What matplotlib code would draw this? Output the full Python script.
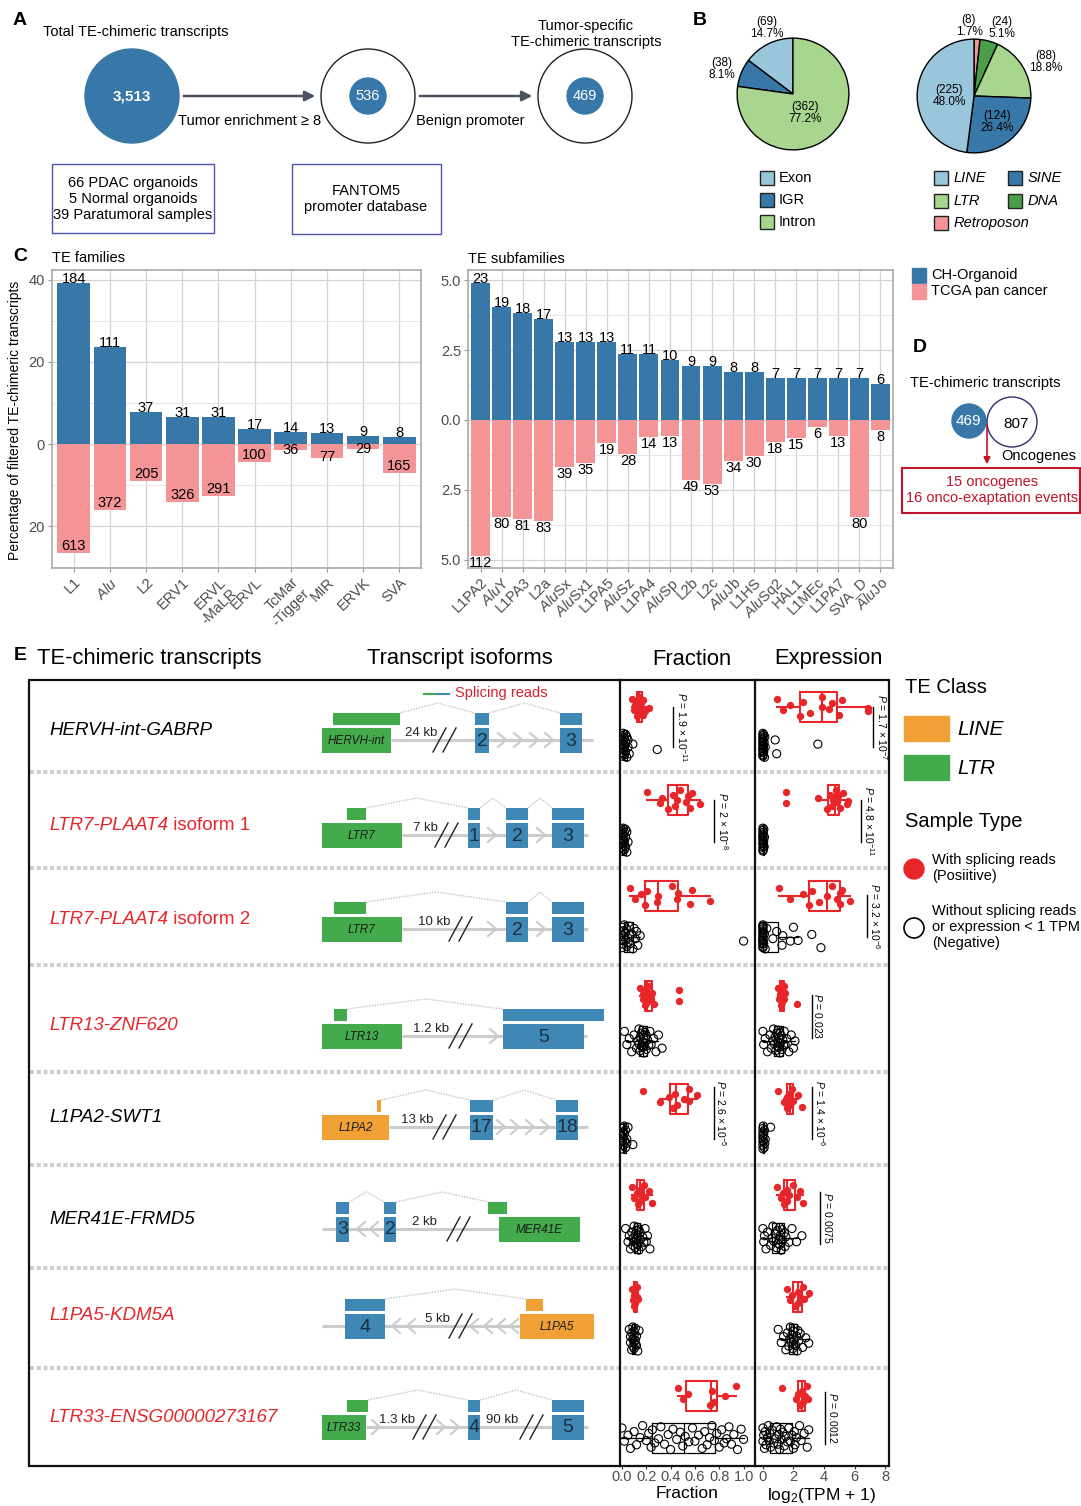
import numpy as np
import matplotlib
matplotlib.use('Agg')
import matplotlib.pyplot as plt
from matplotlib.patches import Circle, Rectangle
from matplotlib.ticker import MultipleLocator

plt.rcParams['font.family'] = ['Liberation Sans', 'DejaVu Sans']
plt.rcParams['mathtext.fontset'] = 'custom'
plt.rcParams['mathtext.rm'] = 'Liberation Sans'
plt.rcParams['mathtext.it'] = 'Liberation Sans:italic'
plt.rcParams['mathtext.bf'] = 'Liberation Sans:bold'

# -------------- data
flow_counts = [3513, 536, 469]

region_labels = ['Exon', 'IGR', 'Intron']
region_counts = [69, 38, 362]
class_labels = ['Retroposon', 'DNA', 'LTR', 'SINE', 'LINE']
class_counts = [8, 24, 88, 124, 225]

ch_total = 469
tcga_total = 2300
fam_names = ['L1', r'$\mathit{Alu}$', 'L2', 'ERV1', 'ERVL\n-MaLR', 'ERVL', 'TcMar\n-Tigger', 'MIR', 'ERVK', 'SVA']
fam_ch = [184, 111, 37, 31, 31, 17, 14, 13, 9, 8]
fam_tcga = [613, 372, 205, 326, 291, 100, 36, 77, 29, 165]
sub_names = ['L1PA2', 'AluY', 'L1PA3', 'L2a', 'AluSx', 'AluSx1', 'L1PA5', 'AluSz', 'L1PA4', 'AluSp',
             'L2b', 'L2c', 'AluJb', 'L1HS', 'AluSq2', 'HAL1', 'L1MEc', 'L1PA7', 'SVA_D', 'AluJo']
sub_ch = [23, 19, 18, 17, 13, 13, 13, 11, 11, 10, 9, 9, 8, 8, 7, 7, 7, 7, 7, 6]
sub_tcga = [112, 80, 81, 83, 39, 35, 19, 28, 14, 13, 49, 53, 34, 30, 18, 15, 6, 13, 80, 8]

onco_te, onco_genes = 469, 807

gene_names = [('HERVH-int-GABRP', '', 'k'), ('LTR7-PLAAT4', ' isoform 1', 'r'),
              ('LTR7-PLAAT4', ' isoform 2', 'r'), ('LTR13-ZNF620', '', 'r'),
              ('L1PA2-SWT1', '', 'k'), ('MER41E-FRMD5', '', 'k'),
              ('L1PA5-KDM5A', '', 'r'), ('LTR33-ENSG00000273167', '', 'r')]

frac_pos = [
    [0.08, 0.10, 0.11, 0.12, 0.12, 0.13, 0.14, 0.14, 0.15, 0.16, 0.17, 0.17, 0.19, 0.22],
    [0.21, 0.31, 0.33, 0.38, 0.42, 0.44, 0.45, 0.48, 0.53, 0.54, 0.56, 0.58, 0.64],
    [0.07, 0.11, 0.16, 0.19, 0.21, 0.29, 0.30, 0.41, 0.45, 0.46, 0.56, 0.58, 0.72],
    [0.15, 0.17, 0.17, 0.19, 0.20, 0.21, 0.21, 0.22, 0.24, 0.25, 0.26, 0.47, 0.47],
    [0.17, 0.31, 0.39, 0.42, 0.44, 0.45, 0.51, 0.55, 0.55, 0.62],
    [0.08, 0.10, 0.12, 0.13, 0.15, 0.15, 0.16, 0.18, 0.19, 0.22, 0.25],
    [0.08, 0.09, 0.10, 0.10, 0.11, 0.11, 0.12, 0.12, 0.13],
    [0.46, 0.50, 0.54, 0.72, 0.74, 0.76, 0.85, 0.94],
]
frac_neg = [
    [0.0, 0.0, 0.0, 0.0, 0.0, 0.0, 0.01, 0.01, 0.01, 0.01, 0.02, 0.02, 0.02, 0.02, 0.03, 0.03,
     0.03, 0.04, 0.04, 0.05, 0.05, 0.06, 0.09, 0.29],
    [0.0, 0.0, 0.0, 0.0, 0.0, 0.0, 0.01, 0.01, 0.01, 0.01, 0.02, 0.02, 0.02, 0.02, 0.03, 0.03,
     0.03, 0.04, 0.04, 0.05],
    [0.0, 0.0, 0.0, 0.0, 0.01, 0.01, 0.02, 0.02, 0.03, 0.03, 0.04, 0.04, 0.05, 0.05, 0.06, 0.07,
     0.08, 0.09, 0.10, 0.11, 0.12, 0.13, 0.15, 1.0],
    [0.02, 0.04, 0.06, 0.08, 0.10, 0.12, 0.13, 0.14, 0.14, 0.15, 0.15, 0.16, 0.16, 0.17, 0.17,
     0.17, 0.18, 0.18, 0.19, 0.19, 0.20, 0.20, 0.21, 0.22, 0.23, 0.24, 0.26, 0.28, 0.30, 0.33],
    [0.0, 0.0, 0.0, 0.0, 0.01, 0.01, 0.01, 0.02, 0.02, 0.02, 0.03, 0.03, 0.04, 0.04, 0.05, 0.09],
    [0.03, 0.05, 0.06, 0.07, 0.08, 0.09, 0.09, 0.10, 0.10, 0.11, 0.11, 0.12, 0.12, 0.12, 0.13,
     0.13, 0.13, 0.14, 0.14, 0.15, 0.15, 0.16, 0.17, 0.18, 0.19, 0.20, 0.21, 0.23],
    [0.06, 0.07, 0.07, 0.08, 0.08, 0.09, 0.09, 0.09, 0.10, 0.10, 0.10, 0.10, 0.11, 0.11, 0.11,
     0.12, 0.12, 0.13, 0.14],
    [0.0, 0.02, 0.05, 0.07, 0.10, 0.12, 0.15, 0.17, 0.20, 0.22, 0.24, 0.25, 0.27, 0.30, 0.32,
     0.35, 0.38, 0.40, 0.42, 0.45, 0.48, 0.50, 0.52, 0.55, 0.58, 0.60, 0.63, 0.66, 0.68, 0.70,
     0.72, 0.74, 0.76, 0.78, 0.80, 0.82, 0.84, 0.86, 0.88, 0.90, 0.92, 0.95, 0.98, 1.0],
]
expr_pos = [
    [0.9, 1.3, 1.8, 2.4, 2.6, 3.1, 3.9, 3.9, 4.3, 4.5, 5.0, 5.2, 6.9, 6.9],
    [1.5, 1.5, 3.6, 4.2, 4.4, 4.5, 4.6, 4.8, 4.85, 4.9, 5.05, 5.25, 5.5, 5.6],
    [1.05, 1.8, 2.6, 3.0, 3.2, 3.7, 4.2, 4.5, 4.85, 5.05, 5.05, 5.2, 5.7],
    [1.0, 1.05, 1.1, 1.2, 1.25, 1.25, 1.3, 1.35, 1.4, 1.45, 2.25],
    [1.0, 1.4, 1.55, 1.6, 1.7, 1.75, 1.8, 1.9, 2.0, 2.3, 2.55],
    [0.9, 1.2, 1.3, 1.4, 1.6, 1.6, 1.7, 2.0, 2.2, 2.4, 2.6],
    [1.55, 1.8, 1.9, 2.1, 2.3, 2.3, 2.4, 2.6, 2.7, 3.0],
    [1.25, 2.15, 2.3, 2.45, 2.55, 2.6, 2.75, 2.9, 2.95],
]
expr_neg = [
    [0.0, 0.0, 0.0, 0.0, 0.0, 0.0, 0.0, 0.0, 0.0, 0.0, 0.0, 0.0, 0.02, 0.03, 0.05, 0.05, 0.08,
     0.1, 0.12, 0.15, 0.8, 0.9, 3.6],
    [0.0, 0.0, 0.0, 0.0, 0.0, 0.0, 0.0, 0.0, 0.0, 0.0, 0.02, 0.03, 0.04, 0.05, 0.06, 0.08, 0.1],
    [0.0, 0.0, 0.0, 0.0, 0.0, 0.0, 0.0, 0.0, 0.0, 0.0, 0.0, 0.0, 0.0, 0.0, 0.0, 0.05, 0.1, 0.15,
     0.25, 0.65, 0.9, 1.25, 1.3, 1.8, 2.0, 2.3, 3.2, 3.8],
    [0.0, 0.05, 0.15, 0.3, 0.45, 0.55, 0.65, 0.7, 0.75, 0.8, 0.85, 0.9, 0.95, 1.0, 1.0, 1.05,
     1.05, 1.1, 1.1, 1.15, 1.2, 1.25, 1.3, 1.35, 1.4, 1.45, 1.55, 1.7, 1.85, 2.0, 2.1],
    [0.0, 0.0, 0.0, 0.0, 0.0, 0.0, 0.0, 0.02, 0.04, 0.05, 0.08, 0.1, 0.12, 0.15, 0.5],
    [0.0, 0.05, 0.1, 0.2, 0.3, 0.5, 0.6, 0.65, 0.7, 0.8, 0.9, 0.95, 1.0, 1.05, 1.1, 1.1, 1.15,
     1.2, 1.25, 1.3, 1.4, 1.45, 1.5, 1.7, 1.9, 2.2, 2.55],
    [1.0, 1.2, 1.35, 1.5, 1.6, 1.7, 1.75, 1.8, 1.85, 1.9, 1.95, 2.0, 2.0, 2.05, 2.1, 2.15, 2.2,
     2.25, 2.3, 2.35, 2.45, 2.6, 2.8, 3.0],
    [0.0, 0.0, 0.05, 0.1, 0.15, 0.2, 0.3, 0.35, 0.4, 0.45, 0.5, 0.6, 0.7, 0.8, 0.9, 1.0, 1.05,
     1.1, 1.15, 1.2, 1.3, 1.4, 1.5, 1.6, 1.7, 1.8, 1.9, 2.0, 2.05, 2.1, 2.2, 2.4, 2.5, 2.7, 2.9,
     3.0],
]
# (column, row, p-value text)
p_values = [('f', 0, '1.9 × 10$^{-11}$'), ('e', 0, '1.7 × 10$^{-7}$'),
            ('f', 1, '2 × 10$^{-8}$'), ('e', 1, '4.8 × 10$^{-11}$'),
            ('e', 2, '3.2 × 10$^{-6}$'), ('e', 3, '0.023'),
            ('f', 4, '2.6 × 10$^{-5}$'), ('e', 4, '1.4 × 10$^{-6}$'),
            ('e', 5, '0.0075'), ('e', 7, '0.0012')]

# -------------- style
W, H = 1081, 1506
BLUE = '#3878a8'
PINK = '#f49497'
LBLUE = '#9ac6dc'
LGREEN = '#a8d68f'
DGREEN = '#4a9e48'
RED = '#e8262a'
TE_GREEN = '#43ab4b'
TE_ORANGE = '#f0a035'
EXON = '#3f87b4'
LGRAY = '#cbcbcb'
GRAYTXT = '#4d4d4d'

fig = plt.figure(figsize=(W / 100, H / 100), dpi=100)
# full-figure overlay in pixel coordinates, drawn above the data axes
ov = fig.add_axes([0, 0, 1, 1], zorder=10)
ov.set_xlim(0, W)
ov.set_ylim(H, 0)
ov.axis('off')


def px_axes(x0, y0, x1, y1):
    return fig.add_axes([x0 / W, 1 - y1 / H, (x1 - x0) / W, (y1 - y0) / H])


def letter(x, y, s):
    ov.text(x, y, s, fontsize=14, fontweight='bold', ha='center', va='center')


# -------------- panel A
letter(20, 20, 'A')
ov.text(43, 32, 'Total TE-chimeric transcripts', fontsize=10.5, va='center')
ov.add_patch(Circle((132, 96), 47, color=BLUE))
ov.text(132, 96, f'{flow_counts[0]:,}', color='white', fontsize=11, fontweight='bold',
        ha='center', va='center')
for cx, n in zip([368, 585], flow_counts[1:]):
    ov.add_patch(Circle((cx, 96), 47, fc='white', ec='#222222', lw=1))
    ov.add_patch(Circle((cx, 96), 18, color=BLUE))
    ov.text(cx, 96, str(n), color='white', fontsize=10.5, ha='center', va='center')
for x0, x1 in [(181, 318), (417, 535)]:
    ov.annotate('', xy=(x1, 96), xytext=(x0, 96),
                arrowprops=dict(arrowstyle='-|>', color='#4a5160', lw=1.8, mutation_scale=15))
ov.text(250, 121, 'Tumor enrichment ≥ 8', fontsize=10.5, ha='center', va='center')
ov.text(470, 121, 'Benign promoter', fontsize=10.5, ha='center', va='center')
ov.text(586, 34, 'Tumor-specific\nTE-chimeric transcripts', fontsize=10.5, ha='center',
        va='center', linespacing=1.25)
ov.add_patch(Rectangle((52, 164), 162, 69, fill=False, ec='#5050b0', lw=1))
ov.text(133, 199, '66 PDAC organoids\n5 Normal organoids\n39 Paratumoral samples',
        fontsize=10.5, ha='center', va='center', linespacing=1.2)
ov.add_patch(Rectangle((292, 164), 149, 70, fill=False, ec='#5050b0', lw=1))
ov.text(366, 199, 'FANTOM5\npromoter database', fontsize=10.5, ha='center', va='center',
        linespacing=1.25)

# -------------- panel B
letter(700, 20, 'B')
pa = px_axes(736, 37, 850, 151)
pa.pie(region_counts, colors=[LBLUE, BLUE, LGREEN], startangle=90, counterclock=True,
       wedgeprops=dict(edgecolor='black', linewidth=1))
pa.set_xlim(-1.02, 1.02)
pa.set_ylim(-1.02, 1.02)
for (x, y), n in zip([(767, 28), (722, 69), (805, 113)], region_counts):
    ov.text(x, y, f'({n})\n{n / sum(region_counts) * 100:.1f}%', fontsize=8.5,
            ha='center', va='center', linespacing=1.0)

pb = px_axes(916, 38, 1032, 154)
pb.pie(class_counts, colors=[PINK, DGREEN, LGREEN, BLUE, LBLUE], startangle=90,
       counterclock=False, wedgeprops=dict(edgecolor='black', linewidth=1))
pb.set_xlim(-1.02, 1.02)
pb.set_ylim(-1.02, 1.02)
for (x, y), n in zip([(969, 26), (1002, 28), (1046, 62), (997, 122), (949, 96)], class_counts):
    ov.text(x, y, f'({n})\n{n / sum(class_counts) * 100:.1f}%', fontsize=8.5,
            ha='center', va='center', linespacing=1.0)

for y, lab, c in zip([178, 200, 222], region_labels, [LBLUE, BLUE, LGREEN]):
    ov.add_patch(Rectangle((760, y - 7), 14, 14, fc=c, ec='#222222', lw=1))
    ov.text(779, y, lab, fontsize=10.5, va='center')
for (x, y), lab, c in zip([(934, 178), (1008, 178), (934, 201), (1008, 201), (934, 223)],
                          ['LINE', 'SINE', 'LTR', 'DNA', 'Retroposon'],
                          [LBLUE, BLUE, LGREEN, DGREEN, PINK]):
    ov.add_patch(Rectangle((x, y - 7), 14, 14, fc=c, ec='#222222', lw=1))
    ov.text(x + 20, y, lab, fontsize=10.5, va='center', style='italic')

# -------------- panel C
letter(20, 256, 'C')


def te_bars(ax, names, ch, tcga, yticks, ylabels, ylim, minor, small_top, fs):
    x = np.arange(len(names))
    ch_pct = np.array(ch) / ch_total * 100
    tc_pct = np.array(tcga) / tcga_total * 100
    ax.bar(x, ch_pct, 0.9, color=BLUE, zorder=2)
    ax.bar(x, -tc_pct, 0.9, color=PINK, zorder=2)
    for xi, v, n in zip(x, ch_pct, ch):
        ax.text(xi, v - 0.01 * (ylim[1] - ylim[0]), str(n), ha='center', va='bottom',
                fontsize=fs, zorder=3)
    for xi, v, n in zip(x, tc_pct, tcga):
        if v >= small_top:
            ax.text(xi, -v, str(n), ha='center', va='bottom', fontsize=fs, zorder=3)
        else:
            ax.text(xi, -v + 0.025 * (ylim[1] - ylim[0]) * (small_top < 50), str(n),
                    ha='center', va='top', fontsize=fs, zorder=3)
    ax.set_xlim(-0.6, len(names) - 0.4)
    ax.set_ylim(*ylim)
    ax.set_yticks(yticks)
    ax.set_yticklabels(ylabels, fontsize=10.5, color=GRAYTXT)
    ax.yaxis.set_minor_locator(MultipleLocator(minor))
    ax.set_xticks(x)
    ax.set_xticklabels(names, rotation=45, ha='right', rotation_mode='anchor',
                       fontsize=10.5, color=GRAYTXT)
    ax.set_axisbelow(True)
    ax.grid(which='major', color='#d4d4d4', lw=0.9)
    ax.grid(which='minor', axis='y', color='#e6e6e6', lw=0.7)
    ax.tick_params(which='both', length=3, color='#999999', pad=2)
    ax.tick_params(which='minor', length=0)
    for s in ax.spines.values():
        s.set_color('#aaaaaa')
        s.set_linewidth(1.2)


ca = px_axes(52, 270, 421, 568)
te_bars(ca, fam_names, fam_ch, fam_tcga, [40, 20, 0, -20], ['40', '20', '0', '20'],
        (-30.2, 42.4), 10, 4, 10.5)
ov.text(52, 258, 'TE families', fontsize=10.5, va='center')
ov.text(15, 420, 'Percentage of filtered TE-chimeric transcripts', fontsize=10,
        rotation=90, ha='center', va='center')

sub_labels = [r'$\mathit{Alu}$' + n[3:] if n.startswith('Alu') else n for n in sub_names]
cb = px_axes(468, 270, 893, 568)
te_bars(cb, sub_labels, sub_ch, sub_tcga, [5, 2.5, 0, -2.5, -5],
        ['5.0', '2.5', '0.0', '2.5', '5.0'], (-5.29, 5.36), 1.25, 99, 10.5)
ov.text(468, 259, 'TE subfamilies', fontsize=10.5, va='center')

ov.add_patch(Rectangle((912, 268), 14, 15, color=BLUE))
ov.add_patch(Rectangle((912, 284), 14, 15, color=PINK))
ov.text(931, 275, 'CH-Organoid', fontsize=10.5, va='center')
ov.text(931, 291, 'TCGA pan cancer', fontsize=10.5, va='center')

# -------------- panel D
letter(920, 347, 'D')
ov.text(910, 383, 'TE-chimeric transcripts', fontsize=10.5, va='center')
ov.add_patch(Circle((969, 421), 17, color=BLUE, zorder=2))
ov.add_patch(Circle((1012, 422), 25, fc='none', ec='#2b2d6e', lw=1, zorder=3))
ov.text(968, 421, str(onco_te), color='white', fontsize=11, ha='center', va='center', zorder=4)
ov.text(1016, 424, str(onco_genes), fontsize=11, ha='center', va='center', zorder=4)
ov.text(1039, 456, 'Oncogenes', fontsize=10.5, ha='center', va='center')
ov.annotate('', xy=(987, 467), xytext=(987, 422),
            arrowprops=dict(arrowstyle='-|>', color='#c0142c', lw=1.2, mutation_scale=10),
            zorder=5)
ov.add_patch(Rectangle((902, 468), 178, 45, fill=False, ec='#c0142c', lw=1.5))
ov.text(992, 490, '15 oncogenes\n16 onco-exaptation events', color='#c0142c', fontsize=10.5,
        ha='center', va='center', linespacing=1.25)

# -------------- panel E: frame
letter(20, 655, 'E')
ov.text(37, 658, 'TE-chimeric transcripts', fontsize=15.8, va='center')
ov.text(460, 658, 'Transcript isoforms', fontsize=15.8, ha='center', va='center')
ov.text(692, 659, 'Fraction', fontsize=15.8, ha='center', va='center')
ov.text(828, 658, 'Expression', fontsize=15.8, ha='center', va='center')

row_edges = [680, 772, 868, 965, 1072, 1165, 1268, 1368, 1466]
for yb in row_edges[1:-1]:
    ov.plot([30, 888], [yb, yb], color='#cfcfcf', lw=3, ls=(0, (1, 0.6)), zorder=1)
ov.add_patch(Rectangle((29, 680), 860, 786, fill=False, ec='#111111', lw=1.6, zorder=5))
for xv in [620, 755]:
    ov.plot([xv, xv], [680, 1466], color='#111111', lw=1.6, zorder=5)

# gene diagrams: lower boxes (x0, x1, colour, label), upper read boxes, arcs, chevrons
B, G, O = EXON, TE_GREEN, TE_ORANGE
diagrams = [
    dict(base=740, line=(391, 593), low=[(322, 391, G, 'HERVH-int'), (475, 489, B, '2'), (560, 582, B, '3')],
         up=[(333, 400, G), (475, 489, B), (560, 582, B)], arcs=[(400, 475), (489, 560)],
         chev=[502, 518, 534, 549], d=1, brk=[433], dist=[(421, '24 kb')]),
    dict(base=835, line=(402, 588), low=[(322, 402, G, 'LTR7'), (468, 480, B, '1'), (506, 528, B, '2'), (552, 584, B, '3')],
         up=[(347, 366, G), (468, 480, B), (506, 528, B), (552, 584, B)], arcs=[(366, 468), (480, 506), (528, 552)],
         chev=[492, 541], d=1, brk=[435], dist=[(425, '7 kb')]),
    dict(base=929, line=(402, 588), low=[(322, 402, G, 'LTR7'), (506, 528, B, '2'), (552, 584, B, '3')],
         up=[(334, 366, G), (506, 528, B), (552, 584, B)], arcs=[(366, 506), (528, 552)],
         chev=[492, 541], d=1, brk=[449], dist=[(434, '10 kb')]),
    dict(base=1036, line=(402, 587), low=[(322, 402, G, 'LTR13'), (503, 584, B, '5')],
         up=[(334, 347, G), (503, 604, B)], arcs=[(347, 503)],
         chev=[494], d=1, brk=[449], dist=[(431, '1.2 kb')]),
    dict(base=1127, line=(389, 588), low=[(322, 389, O, 'L1PA2'), (470, 493, B, '17'), (556, 578, B, '18')],
         up=[(377, 381, O), (470, 493, B), (556, 578, B)], arcs=[(381, 470), (493, 556)],
         chev=[501, 515, 530, 545], d=1, brk=[433], dist=[(417, '13 kb')]),
    dict(base=1229, line=(322, 499), low=[(336, 349, B, '3'), (384, 396, B, '2'), (499, 580, G, 'MER41E')],
         up=[(336, 349, B), (384, 396, B), (488, 507, G)], arcs=[(349, 384), (396, 488)],
         chev=[361, 374], d=-1, brk=[447], dist=[(424, '2 kb')]),
    dict(base=1326, line=(322, 520), low=[(345, 385, B, '4'), (520, 594, O, 'L1PA5')],
         up=[(345, 385, B), (526, 543, O)], arcs=[(385, 526)],
         chev=[396, 411, 474, 488, 501, 514], d=-1, brk=[449], dist=[(437, '5 kb')]),
    dict(base=1427, line=(366, 588), low=[(322, 366, G, 'LTR33'), (468, 480, B, '4'), (552, 584, B, '5')],
         up=[(347, 368, G), (468, 480, B), (552, 584, B)], arcs=[(368, 468), (480, 552)],
         chev=[376, 441, 455], d=1, brk=[413, 520], dist=[(397, '1.3 kb'), (502, '90 kb')]),
]

for dg in diagrams:
    yb = dg['base']
    ov.plot(dg['line'], [yb, yb], color=LGRAY, lw=2.2, zorder=2, solid_capstyle='butt')
    for x in dg['chev']:
        d = dg['d']
        ov.plot([x - 4 * d, x + 4 * d, x - 4 * d], [yb - 7, yb, yb + 7], color=LGRAY, lw=1.5, zorder=2)
    for x0, x1, c, lab in dg['low']:
        ov.add_patch(Rectangle((x0, yb - 12), x1 - x0, 24.5, color=c, lw=0, zorder=3))
        if c == B:
            ov.text((x0 + x1) / 2, yb + 1, lab, fontsize=14, color='#1c2e3e', ha='center',
                    va='center', zorder=4)
        else:
            ov.text((x0 + x1) / 2, yb + 1, lab, fontsize=8.5, style='italic', color='#1a1a1a',
                    ha='center', va='center', zorder=4)
    for x0, x1, c in dg['up']:
        ov.add_patch(Rectangle((x0, yb - 27), x1 - x0, 12, color=c, lw=0, zorder=3))
    for x0, x1 in dg['arcs']:
        ov.plot([x0, (x0 + x1) / 2, x1], [yb - 27, yb - 37, yb - 27], color='#c4c4c4', lw=1,
                ls=(0, (1, 1)), zorder=2)
    for x in dg['brk']:
        for dx in (0, 10):
            ov.plot([x + dx, x + dx + 13], [yb + 12, yb - 12], color='#222222', lw=1, zorder=4)
    for x, s in dg['dist']:
        ov.text(x, yb - 7, s, fontsize=9.5, ha='center', va='center', color='#222222', zorder=4)

ov.plot([424, 437], [694, 694], color=TE_GREEN, lw=1.5)
ov.plot([437, 449], [694, 694], color=EXON, lw=1.5)
ov.text(455, 693, 'Splicing reads', color='#d8202e', fontsize=10.5, va='center')

for (name, suffix, c), dg in zip(gene_names, diagrams):
    col = 'black' if c == 'k' else RED
    t = ov.text(49, dg['base'] - 10, name, style='italic', color=col, fontsize=13.5, va='center')
    if suffix:
        ov.annotate(suffix, xy=(1, 0.5), xycoords=t, va='center', ha='left', color=col,
                    fontsize=13.5)

# -------------- panel E: fraction / expression
JIT = np.array([-0.8, 0.3, -0.2, 0.9, -0.5, 0.6, 0.0, -1.0, 0.25, -0.35, 0.8, -0.65, 0.45,
                0.1, -0.9, 0.55, -0.25, 1.0, -0.7, 0.15, -0.45, 0.7, -0.1, 0.35])
tops = np.array(row_edges[:-1])
hts = np.diff(row_edges)
red_y = tops + 0.29 * hts
blk_y = tops + 0.71 * hts

fa = px_axes(620, 680, 755, 1466)
ea = px_axes(755, 680, 889, 1466)
for ax, pos_all, neg_all, xlim, ticks, tlabels, xlabel in [
        (fa, frac_pos, frac_neg, (-0.016, 1.094), [0, 0.2, 0.4, 0.6, 0.8, 1.0],
         ['0.0', '0.2', '0.4', '0.6', '0.8', '1.0'], 'Fraction'),
        (ea, expr_pos, expr_neg, (-0.52, 8.26), [0, 2, 4, 6, 8],
         ['0', '2', '4', '6', '8'], r'log$_2$(TPM + 1)')]:
    for i in range(8):
        for vals, yc, c, amp in [(pos_all[i], red_y[i], RED, 10), (neg_all[i], blk_y[i], 'black', 12)]:
            lw = 1.5 if c == RED else 0.9
            ax.boxplot([vals], positions=[yc], widths=30, orientation='horizontal',
                       showfliers=False, showcaps=False, manage_ticks=False,
                       boxprops=dict(color=c, lw=lw), whiskerprops=dict(color=c, lw=lw),
                       medianprops=dict(color=c, lw=lw))
            jy = yc + amp * np.resize(JIT, len(vals))
            if c == RED:
                ax.scatter(vals, jy, s=28, color=RED, lw=0, zorder=3)
            else:
                ax.scatter(vals, jy, s=34, facecolors='none', edgecolors='black', lw=0.8, zorder=3)
    ax.set_xlim(*xlim)
    ax.set_ylim(1466, 680)
    ax.set_facecolor('none')
    ax.set_yticks([])
    ax.set_xticks(ticks)
    ax.set_xticklabels(tlabels, fontsize=10.5, color=GRAYTXT)
    ax.tick_params(axis='x', length=2, pad=1, color='#333333')
    for s in ax.spines.values():
        s.set_visible(False)
    ax.set_xlabel(xlabel, fontsize=12.5, labelpad=1)

# p-value annotations: (line x, text x, y0, y1) in pixels
p_pos = {('f', 0): (673, 682, 707, 747), ('e', 0): (873, 882, 707, 747),
         ('f', 1): (714, 723, 800, 842), ('e', 1): (861, 869, 800, 842),
         ('e', 2): (867, 875, 895, 937), ('e', 3): (812, 818, 995, 1038),
         ('f', 4): (714, 721, 1087, 1139), ('e', 4): (812, 820, 1087, 1139),
         ('e', 5): (820, 828, 1192, 1244), ('e', 7): (825, 833, 1392, 1444)}
for col, row, s in p_values:
    lx, tx, y0, y1 = p_pos[(col, row)]
    ov.plot([lx, lx], [y0, y1], color='black', lw=1, zorder=6)
    ov.text(tx, (y0 + y1) / 2, r'$P$ = ' + s, rotation=270, fontsize=7.5, ha='center',
            va='center', zorder=6)

# -------------- legend E
ov.text(905, 687, 'TE Class', fontsize=14.5, va='center')
ov.add_patch(Rectangle((904, 716), 45, 25, color=TE_ORANGE))
ov.text(957, 729, 'LINE', fontsize=15, style='italic', va='center')
ov.add_patch(Rectangle((904, 755), 45, 25, color=TE_GREEN))
ov.text(957, 768, 'LTR', fontsize=15, style='italic', va='center')
ov.text(905, 821, 'Sample Type', fontsize=14.5, va='center')
ov.add_patch(Circle((914, 869), 10, color=RED))
ov.text(932, 868, 'With splicing reads\n(Posiitive)', fontsize=10.5, va='center', linespacing=1.2)
ov.add_patch(Circle((914, 928), 10, fc='none', ec='black', lw=1.2))
ov.text(932, 927, 'Without splicing reads\nor expression < 1 TPM\n(Negative)', fontsize=10.5,
        va='center', linespacing=1.2)

fig.savefig('out.png', dpi=100)
